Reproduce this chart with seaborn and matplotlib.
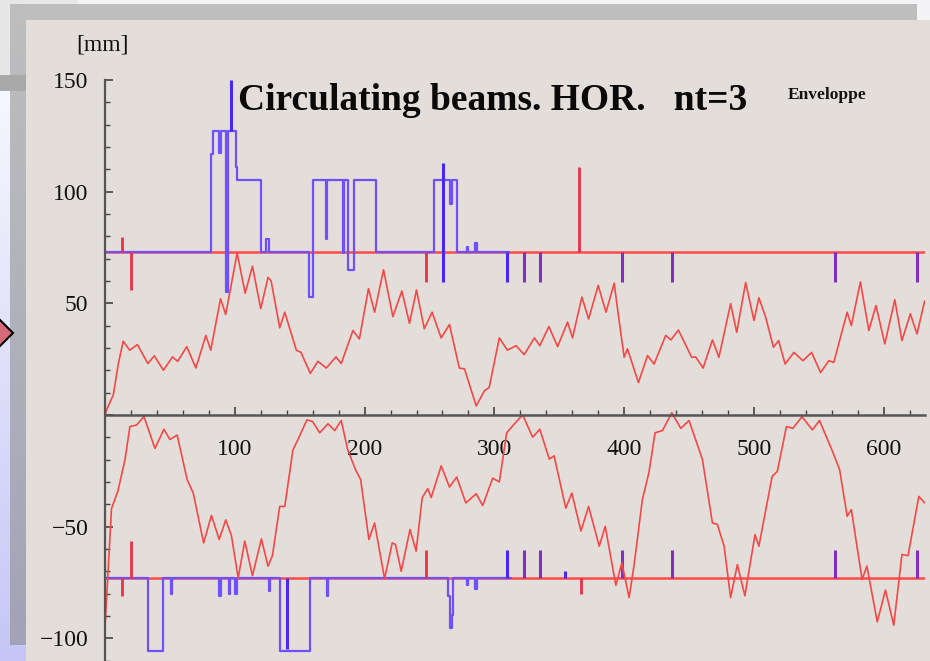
import numpy as np
import pandas as pd
import matplotlib
matplotlib.use("Agg")
import matplotlib.pyplot as plt
import seaborn as sns
from matplotlib.patches import Rectangle, Polygon
from matplotlib.ticker import MultipleLocator, FixedLocator, FixedFormatter

# ---------------- data ----------------
env_top_s = [0, 1, 6.4, 10.3, 14, 19, 25, 33, 38, 45, 52, 56, 63, 70, 77.7, 81.5, 89, 93,
             101.8, 108, 113.6, 120, 125.6, 128, 134.6, 138.5, 147.4, 151, 158.2, 164,
             170.5, 178, 182, 191, 196, 203, 207.7, 214.6, 221.8, 228.7, 234.6, 240, 246,
             252, 259, 265.4, 273, 277, 286, 292.3, 296, 303.8, 310, 316.7, 323, 330.8,
             335, 342, 348.7, 356.4, 360.2, 367.4, 372.6, 380, 386, 392.3, 395, 400,
             402.5, 411, 418, 423, 432, 436, 441.8, 452, 455, 460.8, 468, 473, 482,
             486.7, 493.6, 500, 503.8, 509, 515, 519, 524, 530.8, 537.7, 544.4, 551.3,
             557.7, 561.5, 571.8, 575, 582, 588.5, 594, 600.8, 608.5, 614, 620.5, 625.6,
             631.5]
env_top_v = [0, 2, 9, 23, 33, 29, 31.5, 23, 26.5, 20, 26, 24, 30.6, 21, 35.6, 29, 52, 45,
             72.5, 54.5, 66.6, 47.6, 61.6, 60, 39, 46, 29, 28, 18.6, 24,
             21, 26, 23, 37.8, 34, 56.6, 46, 65, 44, 55.5, 41, 56, 38.6,
             46, 34.5, 40.5, 21, 20.6, 4, 10.8, 12.3, 34.5, 29, 31, 27, 34.5,
             31, 39.6, 30.6, 41.6, 34.5, 52.8, 43, 58, 46, 59, 47, 25.8,
             29.6, 14.5, 26.6, 22.8, 35.6, 33.6, 38, 25.8, 26, 21, 33.6, 25.8, 49.8,
             37, 59.3, 42.3, 52.5, 43.8, 30.3, 33.3, 22.8, 28, 24.3, 28, 19,
             24.3, 23.5, 46, 40, 59.6, 37.8, 49, 31.8, 51.6, 33.3, 45.3, 36.3,
             51]

env_bot_s = [0, 2.6, 5, 10, 15.4, 19.2, 24.4, 30, 38.5, 45.4, 50, 55.6, 63.3, 68, 76, 82,
             88, 93, 97.4, 102.6, 107.7, 113.6, 120.5, 125.6, 129, 134.6, 138.5, 144.8,
             148.7, 155.6, 160, 165.4, 171.8, 177, 182, 187, 193, 197, 203.3, 207.7,
             215.4, 221.3, 223.8, 228.2, 235, 239.7, 244.4, 248.7, 251.3, 259, 265.4,
             271, 278, 286, 291, 298.7, 303.8, 309.5, 315.4, 321.8, 329.5, 335, 342.3,
             346, 355, 359.7, 366.7, 372.6, 380.8, 385.4, 393.6, 398.2, 403.8, 407.7,
             414, 419, 423.8, 429.5, 436.7, 443.6, 450, 460.3, 468, 471.8, 477, 482,
             487.2, 493, 500.8, 503.8, 514, 518, 525, 530, 537, 545, 550.5, 560, 566,
             571.8, 575, 583.3, 587, 595, 601.3, 607.7, 614, 618.7, 627, 631.5]
env_bot_v = [-95, -67.7, -42, -34, -20, -5.2, -4.5, -0.7, -15, -6.4, -11, -9, -29, -35, -57.3, -45,
             -55.8, -47, -54, -73, -56.5, -72, -55.5, -67.7, -63, -41, -41, -15.6,
             -11, -2.2, -3, -8, -4, -7, -2.5, -15.6, -24.5, -29, -55.8, -48.4,
             -73.4, -57.3, -58, -70, -51.3, -61, -37, -33, -37, -22.8, -32.3,
             -27.8, -39.4, -35.3, -40.6, -28.3, -30, -8, -4, 0, -10, -6.4, -19.8,
             -18.3, -41.7, -35, -52, -41, -58.8, -49.9, -76.3, -66.2, -81.8, -67,
             -38, -26, -8, -7, 1, -6, -2.5, -20, -48.4, -49, -58.8, -81.8,
             -67, -81, -53.6, -58.8, -27.5, -25.3, -5.2, -6, -0.8, -6.7, -2.5, -15.6, -24.5,
             -45.4, -42.4, -73.7, -67.7, -92.7, -78.4, -94.2, -62.5, -63, -36.5, -39.4]

# aperture (red) full-ring line
red_ap_s = [0, 632]
red_ap_top = [73, 73]
red_ap_bot = [-73, -73]

# blue aperture step profile, upper side
blue_top_s = [0, 82, 83.3, 88, 89, 93.6, 95, 98.5, 101, 102, 120.5, 124, 126, 157, 160.3,
              170, 171, 183, 184, 187, 192, 208.5, 253.8, 265.5, 267, 271, 279, 280,
              285, 286.5, 311]
blue_top_v = [73, 117, 127, 117.5, 127, 55, 127, 127, 111, 105, 73, 79, 73, 53, 105,
              79, 105, 72.5, 105, 65, 105, 73, 105, 94.6, 105, 73, 75, 73,
              77, 73, 73]
# blue aperture step profile, lower side
blue_bot_s = [0, 33.3, 45, 50.5, 51.5, 88, 89, 95.5, 96.5, 100.5, 101.5, 126.5, 127.5,
              134.6, 157.7, 171, 172, 264, 265.5, 267, 268.5, 279, 280, 285, 286.5, 313]
blue_bot_v = [-73, -105.5, -73, -80, -73, -81, -73, -80, -73, -80, -73, -79, -73,
              -105.7, -73, -81, -73, -81, -95.5, -89.6, -73, -76, -73, -78, -73, -73]

# isolated markers (position, tip value)
blue_spk_s = [97, 140, 260.3, 309.5, 309.5, 354.6]
blue_spk_lo = [127, -105, 59.5, 59.5, -73, -73]
blue_spk_hi = [150, -73, 113, 73, -60.5, -70]
purple_spk_s = [322.6, 335.4, 398.7, 436.7, 562.8, 625.6]
red_spk_s = [13.3, 19.8, 247, 365.4, 13.3, 19.8, 247, 366.7]
red_spk_lo = [73, 55.8, 59.5, 73, -81, -73, -73, -80]
red_spk_hi = [79.6, 73, 73, 111, -73, -56.6, -60.5, -73]

x_ticks = [100, 200, 300, 400, 500, 600]
y_ticks = [-100, -50, 0, 50, 100, 150]
y_ticklabels = ["\u2212100", "\u221250", "", "50", "100", "150"]

# ---------------- figure ----------------
sns.set_theme(style="white")
plt.rcParams['font.family'] = ['Liberation Serif', 'DejaVu Serif']

W, H = 930, 661
fig = plt.figure(figsize=(9.3, 6.61), dpi=100)
fig.patch.set_facecolor('#F4F4F6')


def fx(px):
    return px / W


def fy(py):
    return 1 - py / H


def rect(x0, y0, x1, y1, color, z):
    fig.add_artist(Rectangle((fx(x0), fy(y1)), fx(x1) - fx(x0), fy(y0) - fy(y1),
                             transform=fig.transFigure, facecolor=color,
                             edgecolor='none', zorder=z))


def grad_axes(x0, y0, x1, y1, c_top, c_bot, z):
    a = fig.add_axes([fx(x0), fy(y1), fx(x1) - fx(x0), fy(y0) - fy(y1)])
    a.set_zorder(z)
    t = np.linspace(0, 1, 256)[:, None]
    ct = np.array(matplotlib.colors.to_rgb(c_top))
    cb = np.array(matplotlib.colors.to_rgb(c_bot))
    img = (1 - t)[:, :, None] * ct + t[:, :, None] * cb
    img = np.repeat(img, 2, axis=1)
    a.imshow(img, aspect='auto', extent=[0, 1, 0, 1])
    a.set_axis_off()
    return a


rect(0, 0, 78, 75, '#E7E7E7', -9)
grad_axes(0, 91, 26, 661, '#F7F7FF', '#C6C6F6', -8)
rect(10, 4, 917, 20, '#BEBEBE', -7)
grad_axes(10, 4, 26, 645, '#BEBEBE', '#A3A3B8', -6)
rect(0, 75, 26, 91, '#A8A8A8', -5.5)
rect(26, 20, 930, 661, '#E3DED9', -5)
fig.add_artist(Polygon([(fx(-3), fy(317)), (fx(13), fy(333)), (fx(-3), fy(349))],
                       closed=True, transform=fig.transFigure, facecolor='#D66A78',
                       edgecolor='black', linewidth=1.5, zorder=-4))

ax = fig.add_axes([fx(105), 0, fx(925.3) - fx(105), (H - 80) / H])
ax.set_zorder(1)
ax.set_facecolor('none')

RED = '#F44848'
BLUE = '#6E50FF'
PURPLE = '#8030C0'

# aperture lines
sns.lineplot(x=red_ap_s, y=red_ap_top, ax=ax, color='#FF4A4A', linewidth=1.8,
             estimator=None, sort=False)
sns.lineplot(x=red_ap_s, y=red_ap_bot, ax=ax, color='#FF4A4A', linewidth=1.8,
             estimator=None, sort=False)
sns.lineplot(x=blue_top_s, y=blue_top_v, ax=ax, color=BLUE, linewidth=1.6,
             estimator=None, sort=False, drawstyle='steps-post')
sns.lineplot(x=blue_bot_s, y=blue_bot_v, ax=ax, color=BLUE, linewidth=1.6,
             estimator=None, sort=False, drawstyle='steps-post')

ax.vlines(blue_spk_s, blue_spk_lo, blue_spk_hi, colors='#4A28F0', linewidth=2.2)
ax.vlines(red_spk_s, red_spk_lo, red_spk_hi, colors='#E8304A', linewidth=2.0)
ax.vlines(purple_spk_s, [59.5] * len(purple_spk_s), [73] * len(purple_spk_s),
          colors=PURPLE, linewidth=2.2)
ax.vlines(purple_spk_s, [-73] * len(purple_spk_s), [-60.5] * len(purple_spk_s),
          colors=PURPLE, linewidth=2.2)

# envelopes
sns.lineplot(x=env_top_s, y=env_top_v, ax=ax, color=RED, linewidth=1.2,
             estimator=None, sort=False)
sns.lineplot(x=env_bot_s, y=env_bot_v, ax=ax, color=RED, linewidth=1.2,
             estimator=None, sort=False)

ax.set_xlim(0, 632)
ax.set_ylim(-110.2, 150)
ax.set_xlabel('')
ax.set_ylabel('')
for side in ['top', 'right']:
    ax.spines[side].set_visible(False)
ax.spines['bottom'].set_position(('data', 0))
ax.spines['bottom'].set_color('#555555')
ax.spines['bottom'].set_linewidth(1.8)
ax.spines['left'].set_color('#555555')
ax.spines['left'].set_linewidth(1.6)

ax.xaxis.set_major_locator(FixedLocator(x_ticks))
ax.xaxis.set_minor_locator(MultipleLocator(20))
ax.yaxis.set_major_locator(FixedLocator(y_ticks))
ax.yaxis.set_major_formatter(FixedFormatter(y_ticklabels))
ax.yaxis.set_minor_locator(MultipleLocator(10))
ax.tick_params(axis='x', which='major', direction='in', length=6, width=1.2,
               color='#444444', pad=17, labelsize=17, labelcolor='#111111')
ax.tick_params(axis='x', which='minor', direction='in', length=3.5, width=1.0,
               color='#444444')
ax.tick_params(axis='y', which='major', direction='in', length=6, width=1.2,
               color='#444444', pad=12, labelsize=17, labelcolor='#111111')
ax.tick_params(axis='y', which='minor', direction='in', length=3.5, width=1.0,
               color='#444444')
ax.tick_params(bottom=True, left=True, which='both')
ax.grid(False)

fig.text(fx(76), fy(50), '[mm]', fontsize=17, color='#111111', ha='left', va='baseline')
fig.text(fx(238), fy(110), 'Circulating beams. HOR.   nt=3', fontsize=27,
         fontweight='bold', color='#0A0A0A', ha='left', va='baseline')
fig.text(fx(788), fy(99), 'Enveloppe', fontsize=12.5, fontweight='bold',
         color='#111111', ha='left', va='baseline')

fig.savefig('out.png', dpi=100)
